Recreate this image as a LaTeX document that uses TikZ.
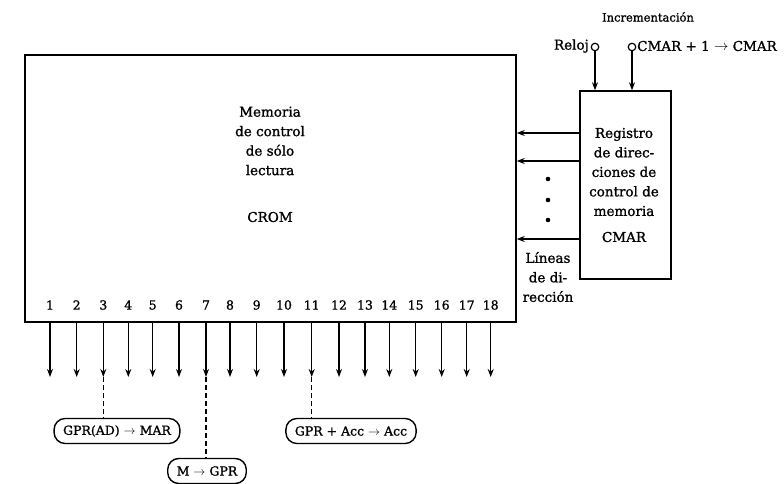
\documentclass[tikz,border=0pt]{standalone}
\usepackage{fontspec}
\setmainfont{DejaVu Serif}[FakeBold=1.2]
\usetikzlibrary{arrows.meta}
\begin{document}
\begin{tikzpicture}[x=1pt,y=-1pt,
  box/.style={draw,line width=1.5pt,inner sep=0pt},
  txt/.style={font=\fontsize{13.5}{19.5}\selectfont,align=center,inner sep=0pt},
  num/.style={font=\fontsize{12.5}{14}\selectfont,inner sep=0pt},
  small/.style={font=\fontsize{11.5}{13}\selectfont,inner sep=0pt},
  arr/.style={line width=1.2pt,-{Stealth[length=8pt,width=6pt]}},
  op/.style={draw,line width=1.4pt,rounded corners=11pt,minimum height=25pt,inner xsep=9pt,font=\fontsize{12.5}{14}\selectfont},
  pin/.style={circle,draw,line width=1.2pt,minimum size=7.5pt,inner sep=0pt},
  dsh/.style={line width=1.2pt,dash pattern=on 5pt off 3pt}]
\useasboundingbox (0,0) rectangle (784,484);
% main boxes
\node[box,minimum width=491pt,minimum height=267pt] (crom) at (270.5,188.5) {};
\node[box,minimum width=91pt,minimum height=188pt] (cmar) at (625.5,185) {};
% texts in CROM
\node[txt] (memtxt) at (270,141) {Memoria\\de control\\de sólo\\lectura};
\node[txt] (cromtxt) at (270,217) {CROM};
% texts in CMAR
\node[txt] (regtxt) at (624,172) {Registro\\de direc-\\ciones de\\control de\\memoria};
\node[txt] (cmartxt) at (624,237) {CMAR};
% address lines
\coordinate (a1s) at (cmar.west |- 0,133);
\coordinate (a2s) at (cmar.west |- 0,161);
\coordinate (a3s) at (cmar.west |- 0,239);
\draw[arr] (a1s) -- (a1s -| crom.east);
\draw[arr] (a2s) -- (a2s -| crom.east);
\draw[arr] (a3s) -- (a3s -| crom.east);
\foreach \y in {179,200,220} \fill (548,\y) circle (2.3pt);
\node[txt] (lineas) at (548,277) {Líneas\\de di-\\rección};
% top inputs
\node[small] (incr) at (648,17) {Incrementación};
\node[pin] (reloj) at (595,47) {};
\node[pin] (inc) at (632,47) {};
\node[txt,anchor=east] (relojtxt) at (589,46) {Reloj};
\node[txt,anchor=west] (inctxt) at (637,46) {CMAR + 1 $\rightarrow$ CMAR};
\draw[arr] (reloj) -- (reloj |- cmar.north);
\draw[arr] (inc) -- (inc |- cmar.north);
% output lines
\foreach \i/\x in {1/50,2/76.7,3/103.3,4/128.3,5/152.7,6/179,7/206,8/230,9/256.7,10/284,11/311.7,12/339,13/365,14/389.3,15/415.7,16/441.7,17/466.7,18/490.7}{
  \coordinate (t\i) at (\x,322);
  \coordinate (b\i) at (\x,377);
  \node[num] (n\i) at (\x,305) {\i};
  \draw[arr] (t\i) -- (b\i);
}
% operations
\node[op] (op1) at (117,431) {GPR(AD) $\rightarrow$ MAR};
\node[op] (op2) at (207,471) {M $\rightarrow$ GPR};
\node[op] (op3) at (351,431) {GPR + Acc $\rightarrow$ Acc};
\draw[dsh] (b3) -- (b3 |- op1.north);
\draw[dsh] (b7) -- (b7 |- op2.north);
\draw[dsh] (b11) -- (b11 |- op3.north);
\end{tikzpicture}
\end{document}
